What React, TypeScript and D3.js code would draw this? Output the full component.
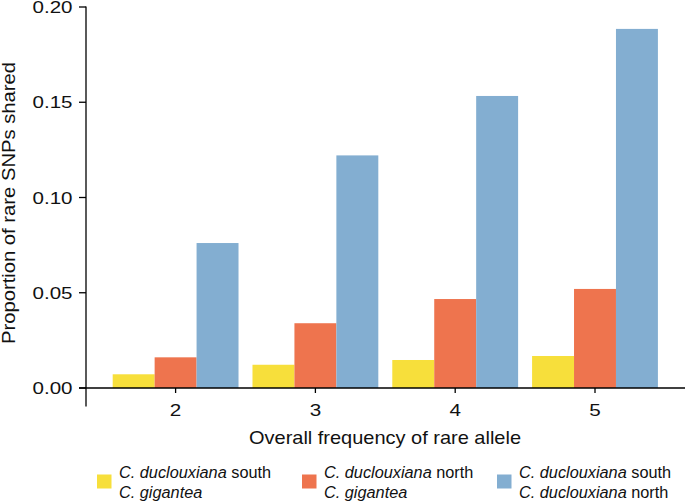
import React from "react";
import * as d3 from "d3";

const categories = ["2", "3", "4", "5"];
const seriesKeys = ["southGig", "northGig", "southNorth"];
const southGigantea = [0.0072, 0.0122, 0.0147, 0.0168];
const northGigantea = [0.0161, 0.034, 0.0467, 0.052];
const southNorth = [0.0761, 0.1221, 0.1533, 0.1885];
const seriesValues = [southGigantea, northGigantea, southNorth];
const seriesColors = ["#F7DF3B", "#EE744E", "#83AED1"];
const yTicks = [0, 0.05, 0.1, 0.15, 0.2];
const legendLines = [
  [["C. duclouxiana", " south"], ["C. gigantea", ""]],
  [["C. duclouxiana", " north"], ["C. gigantea", ""]],
  [["C. duclouxiana", " south"], ["C. duclouxiana", " north"]],
];

const FONT = "'Liberation Sans', Arial, Helvetica, sans-serif";

export default function App() {
  const W = 685, H = 501;
  const y = d3.scaleLinear().domain([0, 0.2]).range([388, 7]);
  const x = d3.scaleBand().domain(categories).range([105.7, 664.9]).paddingInner(0.1).paddingOuter(0.05);
  const xs = d3.scaleBand().domain(seriesKeys).range([0, x.bandwidth()]);
  const legendX = [97, 302, 497];

  return (
    <svg width={W} height={H} style={{ position: "absolute", left: 0, top: 0, background: "#fff" }} fontFamily={FONT}>
      {seriesValues.map((vals, si) =>
        vals.map((v, ci) => (
          <rect
            key={`${si}-${ci}`}
            x={(x(categories[ci]) ?? 0) + (xs(seriesKeys[si]) ?? 0)}
            y={y(v)}
            width={xs.bandwidth()}
            height={y(0) - y(v)}
            fill={seriesColors[si]}
          />
        ))
      )}
      {/* y axis */}
      <line x1={86} x2={86} y1={6.5} y2={406.5} stroke="#000" strokeWidth={1.3} />
      {yTicks.map((t) => (
        <g key={t}>
          <line x1={79} x2={86} y1={y(t)} y2={y(t)} stroke="#000" strokeWidth={1.3} />
          <text x={72.5} y={y(t) + 6} textAnchor="end" fontSize={16.5} fill="#111" textLength={40} lengthAdjust="spacingAndGlyphs">
            {d3.format(".2f")(t)}
          </text>
        </g>
      ))}
      {/* x axis */}
      <line x1={79} x2={685} y1={388} y2={388} stroke="#000" strokeWidth={1.3} />
      {categories.map((c) => {
        const cx = (x(c) ?? 0) + x.bandwidth() / 2;
        return (
          <g key={c}>
            <line x1={cx} x2={cx} y1={388} y2={393} stroke="#000" strokeWidth={1.3} />
            <text x={cx} y={415.5} textAnchor="middle" fontSize={16} fill="#111" textLength={11.5} lengthAdjust="spacingAndGlyphs">{c}</text>
          </g>
        );
      })}
      <text x={385} y={443.5} textAnchor="middle" fontSize={18.5} fill="#111" textLength={272} lengthAdjust="spacingAndGlyphs">
        Overall frequency of rare allele
      </text>
      <text transform="translate(15,203) rotate(-90)" textAnchor="middle" fontSize={19} fill="#111" textLength={282} lengthAdjust="spacingAndGlyphs">
        Proportion of rare SNPs shared
      </text>
      {/* legend */}
      {legendLines.map((lines, i) => (
        <g key={i}>
          <rect x={legendX[i]} y={474.5} width={14.5} height={14} fill={seriesColors[i]} />
          {lines.map((ln, j) => (
            <text key={j} x={legendX[i] + 22} y={477.5 + j * 20} fontSize={16.3} fill="#111">
              <tspan fontStyle="italic">{ln[0]}</tspan>
              <tspan>{ln[1]}</tspan>
            </text>
          ))}
        </g>
      ))}
    </svg>
  );
}
